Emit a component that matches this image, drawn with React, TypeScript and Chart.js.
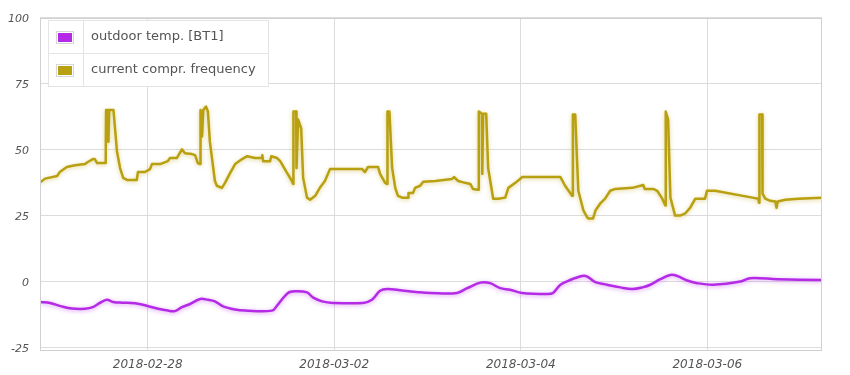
import React, { useEffect, useRef } from "react";
import { Chart, registerables } from "chart.js";

Chart.register(...registerables);

// x values are hours relative to 2018-02-28 00:00
const tickHours = [0, 48, 96, 144];
const tickLabels = ["2018-02-28", "2018-03-02", "2018-03-04", "2018-03-06"];
const yTicks = [-25, 0, 25, 50, 75, 100];

const seriesNames = ["outdoor temp. [BT1]", "current compr. frequency"];
const seriesColors = ["#b42ae6", "#b8a010"];

const tempHours = [
  -27.5, -25.1, -22.1, -19.5, -16.1, -14.1, -12.3, -10.5, -8.9, -6.6, -3.3, -0.7, 2.7, 5.2, 7.0, 8.8,
  10.9, 13.5, 15.5, 17.3, 19.4, 22.5, 25.0, 32.0, 33.5, 36.1, 37.9, 41.0, 42.5, 44.9, 47.7, 55.4,
  57.7, 59.8, 61.6, 65.5, 69.6, 72.7, 79.6, 82.2, 85.6, 88.1, 90.7, 93.2, 96.3, 102.8, 104.3, 106.2,
  108.7, 111.8, 113.1, 115.2, 118.2, 121.6, 124.7, 127.5, 129.3, 131.9, 134.5, 136.3, 138.8, 141.4,
  145.5, 152.5, 155.0, 162.0, 173.5,
];
const tempValues = [
  -7.7, -8.1, -9.4, -10.2, -10.3, -9.7, -8.1, -6.9, -7.7, -8.0, -8.2, -9.0, -10.3, -11.0, -11.2, -9.7,
  -8.5, -6.6, -6.9, -7.5, -9.4, -10.6, -11.0, -11.0, -8.7, -4.3, -3.7, -4.1, -6.0, -7.5, -8.1, -8.1,
  -6.9, -3.5, -2.8, -3.4, -4.0, -4.3, -4.3, -2.5, -0.4, -0.6, -2.5, -3.1, -4.3, -4.7, -4.3, -1.2,
  0.6, 2.1, 1.9, -0.2, -1.2, -2.2, -2.8, -2.1, -1.2, 0.9, 2.5, 2.1, 0.4, -0.6,
  -1.2, 0, 1.3, 0.9, 0.6,
];

const freqHours = [
  -27.7, -26.4, -23.3, -22.6, -20.8, -18.7, -16.1, -15.4, -14.1, -13.6, -13.0, -10.8, -10.7, -10.3, -10.1, -9.9,
  -8.8, -7.9, -7.1, -6.3, -5.3, -2.8, -2.5, -0.7, 0.6, 1.1, 3.2, 5.2, 5.7, 7.5, 8.8, 9.6,
  11.4, 12.2, 12.9, 13.5, 13.6, 14.0, 14.3, 15.0, 15.5, 16.0, 17.3, 17.8, 19.1, 19.9, 21.2, 22.5,
  24.3, 25.6, 27.6, 29.4, 29.5, 29.7, 31.5, 31.8, 33.3, 34.1, 35.9, 37.1, 37.4, 37.5, 38.2, 38.3,
  38.7, 39.5, 40.0, 41.0, 41.8, 43.1, 44.3, 45.6, 46.9, 55.2, 55.9, 56.7, 59.3, 59.8, 61.1, 61.6,
  61.7, 62.2, 62.9, 63.7, 64.4, 65.5, 67.0, 67.1, 68.3, 68.8, 70.1, 70.9, 74.0, 78.3, 78.8, 79.9,
  81.7, 83.0, 83.7, 85.0, 85.2, 86.0, 86.1, 86.3, 87.1, 87.6, 88.9, 90.2, 92.0, 92.8, 94.6, 96.4,
  106.2, 107.4, 109.2, 109.4, 110.0, 110.8, 112.1, 113.1, 113.4, 114.6, 115.2, 116.4, 117.7, 119.0, 120.3, 124.7,
  127.5, 127.9, 130.1, 131.1, 132.4, 133.2, 133.3, 133.9, 134.5, 135.7, 137.0, 138.3, 139.6, 140.9, 143.4, 143.9,
  146.0, 155.6, 157.1, 157.3, 157.4, 158.1, 158.2, 158.9, 160.2, 161.5, 161.8, 162.1, 164.1, 167.4, 173.5,
];
const freqValues = [
  37.5, 39, 40, 41.5, 43.4, 44.1, 44.5, 45.3, 46.4, 46.4, 44.9, 44.9, 65, 65, 53, 65,
  65, 49.4, 43, 39.3, 38.5, 38.5, 41.5, 41.5, 42.6, 44.5, 44.5, 45.6, 46.8, 46.8, 50.1, 48.6,
  48.3, 47.9, 44.9, 44.5, 65, 55, 65, 66.3, 64.4, 53.1, 38.1, 36.3, 35.5, 37.4, 41.1, 44.5,
  46.4, 47.5, 46.8, 46.8, 47.9, 45.6, 45.6, 47.5, 46.8, 45.6, 41.1, 38.1, 37, 64.4, 64.4, 43,
  61.4, 58, 39.3, 31.8, 31, 32.5, 35.5, 38.1, 42.6, 42.6, 41.5, 43.4, 43.4, 40.8, 37.4, 37,
  64.4, 64.4, 43, 35.5, 32.5, 31.8, 31.8, 33.6, 33.6, 35.5, 36.3, 37.8, 38.1, 38.9, 39.6, 38.1,
  37.4, 37, 35.1, 34.8, 64.4, 63.6, 40.8, 63.6, 63.6, 43, 31.4, 31.4, 31.8, 35.5, 37.4, 39.6,
  39.6, 36.3, 32.5, 63.3, 63.3, 34.4, 27, 24.3, 23.9, 23.9, 26.9, 29.5, 31.4, 34.4, 35.1, 35.5,
  36.6, 35.1, 35.1, 34.4, 31.4, 28.8, 64.4, 61.4, 31.8, 25, 25, 25.8, 28, 31.4, 31.4, 34.4,
  34.4, 31.8, 31.4, 29.9, 63.3, 63.3, 33.3, 31.4, 30.6, 30.3, 28, 30.3, 31, 31.4, 31.8,
];

const FONT = "'DejaVu Sans', Verdana, sans-serif";

const shadowPlugin = {
  id: "lineShadow",
  beforeDatasetDraw(chart: any, args: any) {
    const ctx = chart.ctx;
    ctx.save();
    const c = args.index === 0 ? "rgba(180,42,230,0.45)" : "rgba(184,160,16,0.45)";
    ctx.shadowColor = c;
    ctx.shadowBlur = 4;
    ctx.shadowOffsetX = 0;
    ctx.shadowOffsetY = 1;
  },
  afterDatasetDraw(chart: any) {
    chart.ctx.restore();
  },
};

const frameLegendPlugin = {
  id: "frameLegend",
  afterDraw(chart: any) {
    const ctx = chart.ctx;
    const a = chart.chartArea;
    ctx.save();
    // plot frame
    ctx.strokeStyle = "#d0d0d0";
    ctx.lineWidth = 1;
    ctx.strokeRect(Math.round(a.left) + 0.5, Math.round(a.top) + 0.5, Math.round(a.right - a.left) - 1, Math.round(a.bottom - a.top) - 1);

    // legend box
    const x = Math.round(a.left) + 8;
    const y = Math.round(a.top) + 2;
    const w = 220;
    const rowH = 33;
    const colW = 35;
    ctx.fillStyle = "rgba(255,255,255,0.95)";
    ctx.fillRect(x, y, w, rowH * seriesNames.length);
    ctx.strokeStyle = "#e4e4e4";
    ctx.strokeRect(x + 0.5, y + 0.5, w, rowH * seriesNames.length);
    for (let i = 1; i < seriesNames.length; i++) {
      ctx.beginPath();
      ctx.moveTo(x, y + rowH * i + 0.5);
      ctx.lineTo(x + w, y + rowH * i + 0.5);
      ctx.stroke();
    }
    ctx.beginPath();
    ctx.moveTo(x + colW + 0.5, y);
    ctx.lineTo(x + colW + 0.5, y + rowH * seriesNames.length);
    ctx.stroke();

    seriesNames.forEach((name, i) => {
      const cy = y + rowH * i + rowH / 2;
      ctx.strokeStyle = "#d6d6d6";
      ctx.strokeRect(x + 8.5, Math.round(cy - 6) + 0.5, 17, 12);
      ctx.fillStyle = seriesColors[i];
      ctx.fillRect(x + 10, Math.round(cy - 6) + 2, 14, 9);
      ctx.fillStyle = "#545454";
      ctx.font = `13px ${FONT}`;
      ctx.textBaseline = "middle";
      ctx.textAlign = "left";
      ctx.fillText(name, x + colW + 8, cy + 0.5);
    });
    ctx.restore();
  },
};

export default function App() {
  const ref = useRef<HTMLCanvasElement | null>(null);

  useEffect(() => {
    document.body.style.margin = "0";
    const canvas = ref.current;
    if (!canvas) return;
    const chart = new Chart(canvas, {
      type: "line",
      data: {
        datasets: [
          {
            label: seriesNames[0],
            data: tempHours.map((h, i) => ({ x: h, y: tempValues[i] })),
            borderColor: seriesColors[0],
            backgroundColor: seriesColors[0],
            borderWidth: 2.5,
            pointRadius: 0,
            tension: 0.35,
            fill: false,
          },
          {
            label: seriesNames[1],
            data: freqHours.map((h, i) => ({ x: h, y: freqValues[i] })),
            borderColor: seriesColors[1],
            backgroundColor: seriesColors[1],
            borderWidth: 2.5,
            pointRadius: 0,
            tension: 0,
            fill: false,
            borderJoinStyle: "round",
          },
        ],
      },
      options: {
        animation: false,
        responsive: false,
        maintainAspectRatio: false,
        layout: { padding: { top: 15, right: 28, left: 0, bottom: 0 } },
        plugins: { legend: { display: false }, tooltip: { enabled: false } },
        scales: {
          x: {
            type: "linear",
            min: -27.7,
            max: 173.5,
            afterFit: (s: any) => { s.height = 24; },
            afterBuildTicks: (s: any) => { s.ticks = tickHours.map((v) => ({ value: v })); },
            grid: { color: "#dcdcdc", drawTicks: false },
            border: { display: false },
            ticks: {
              padding: 7,
              color: "#545454",
              font: { family: FONT, size: 12, style: "italic" },
              maxRotation: 0,
              callback: (v: any) => tickLabels[tickHours.indexOf(Number(v))] ?? "",
            },
          },
          y: {
            type: "linear",
            min: -26.3,
            max: 100,
            afterFit: (s: any) => { s.width = 40; },
            afterBuildTicks: (s: any) => { s.ticks = yTicks.map((v) => ({ value: v })); },
            grid: { color: "#dcdcdc", drawTicks: false },
            border: { display: false },
            ticks: {
              padding: 11,
              labelOffset: 2,
              color: "#545454",
              font: { family: FONT, size: 11, style: "italic" },
              callback: (v: any) => String(v),
            },
          },
        },
      },
      plugins: [shadowPlugin, frameLegendPlugin],
    } as any);
    return () => chart.destroy();
  }, []);

  return (
    <div style={{ position: "absolute", left: 0, top: 0, width: 850, height: 375, background: "#fff" }}>
      <canvas ref={ref} width={850} height={375} style={{ display: "block", width: 850, height: 375 }} />
    </div>
  );
}
